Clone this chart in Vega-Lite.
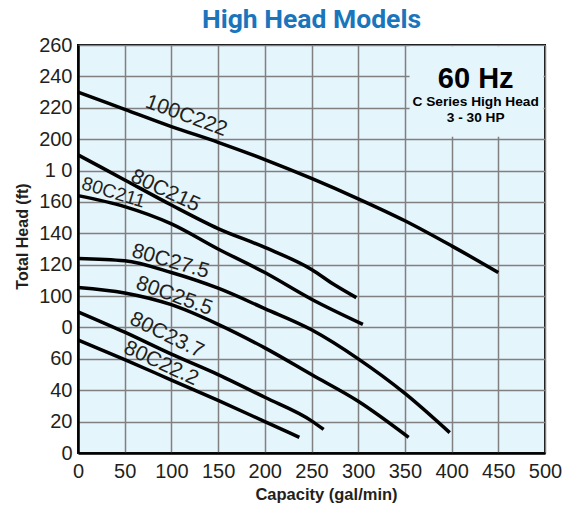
{
  "$schema": "https://vega.github.io/schema/vega-lite/v6.json",
  "width": 467,
  "height": 408,
  "autosize": {"type": "none"},
  "padding": {"left": 78, "top": 45, "right": 21, "bottom": 52},
  "background": "white",
  "title": {"text": "High Head Models", "font": "Roboto", "fontSize": 26.5, "fontWeight": "bold", "color": "#1b75bc", "anchor": "middle", "frame": "group", "offset": 2},
  "config": {
    "view": {"fill": "#e4f5fc", "stroke": "#000000", "strokeWidth": 2},
    "text": {"font": "Liberation Sans", "color": "#231f20"}
  },
  "datasets": {
    "curves": [
      {"model": "100C222", "q": 0, "h": 230}, {"model": "100C222", "q": 50, "h": 219}, {"model": "100C222", "q": 100, "h": 208}, {"model": "100C222", "q": 150, "h": 198}, {"model": "100C222", "q": 200, "h": 187}, {"model": "100C222", "q": 250, "h": 175}, {"model": "100C222", "q": 300, "h": 162}, {"model": "100C222", "q": 350, "h": 148}, {"model": "100C222", "q": 400, "h": 132}, {"model": "100C222", "q": 450, "h": 115},
      {"model": "80C215", "q": 0, "h": 190}, {"model": "80C215", "q": 50, "h": 174}, {"model": "80C215", "q": 100, "h": 158}, {"model": "80C215", "q": 150, "h": 143}, {"model": "80C215", "q": 200, "h": 131}, {"model": "80C215", "q": 250, "h": 117}, {"model": "80C215", "q": 275, "h": 107}, {"model": "80C215", "q": 298, "h": 99},
      {"model": "80C211", "q": 0, "h": 164}, {"model": "80C211", "q": 50, "h": 157}, {"model": "80C211", "q": 100, "h": 146}, {"model": "80C211", "q": 150, "h": 130}, {"model": "80C211", "q": 200, "h": 115}, {"model": "80C211", "q": 250, "h": 98}, {"model": "80C211", "q": 305, "h": 82},
      {"model": "80C27.5", "q": 0, "h": 124}, {"model": "80C27.5", "q": 50, "h": 122.5}, {"model": "80C27.5", "q": 100, "h": 115}, {"model": "80C27.5", "q": 150, "h": 105}, {"model": "80C27.5", "q": 200, "h": 92}, {"model": "80C27.5", "q": 250, "h": 78.5}, {"model": "80C27.5", "q": 300, "h": 60}, {"model": "80C27.5", "q": 350, "h": 38}, {"model": "80C27.5", "q": 398, "h": 13},
      {"model": "80C25.5", "q": 0, "h": 105.5}, {"model": "80C25.5", "q": 50, "h": 102}, {"model": "80C25.5", "q": 100, "h": 94.5}, {"model": "80C25.5", "q": 150, "h": 82}, {"model": "80C25.5", "q": 200, "h": 67}, {"model": "80C25.5", "q": 250, "h": 50}, {"model": "80C25.5", "q": 300, "h": 33}, {"model": "80C25.5", "q": 354, "h": 10},
      {"model": "80C23.7", "q": 0, "h": 90}, {"model": "80C23.7", "q": 50, "h": 77}, {"model": "80C23.7", "q": 100, "h": 63}, {"model": "80C23.7", "q": 150, "h": 50}, {"model": "80C23.7", "q": 200, "h": 35.5}, {"model": "80C23.7", "q": 250, "h": 20.5}, {"model": "80C23.7", "q": 263, "h": 15},
      {"model": "80C22.2", "q": 0, "h": 72}, {"model": "80C22.2", "q": 50, "h": 59.5}, {"model": "80C22.2", "q": 100, "h": 46.5}, {"model": "80C22.2", "q": 150, "h": 33.5}, {"model": "80C22.2", "q": 200, "h": 20}, {"model": "80C22.2", "q": 237, "h": 10}
    ],
    "labels": [
      {"model": "100C222", "q": 116, "h": 214.8},
      {"model": "80C215", "q": 93.5, "h": 167},
      {"model": "80C211", "q": 38, "h": 166},
      {"model": "80C27.5", "q": 99, "h": 122},
      {"model": "80C25.5", "q": 103, "h": 100},
      {"model": "80C23.7", "q": 95, "h": 75},
      {"model": "80C22.2", "q": 89, "h": 57}
    ],
    "box": [{"q": 355, "q2": 498.5, "h": 201.5, "h2": 259.2}],
    "notes": [
      {"note": "60 Hz", "q": 425.8, "h": 232.7},
      {"note": "C Series High Head", "q": 425.8, "h": 221.2},
      {"note": "3 - 30 HP", "q": 425.8, "h": 211}
    ]
  },
  "encoding": {
    "x": {"field": "q", "type": "quantitative", "scale": {"domain": [0, 500], "nice": false, "zero": false},
      "axis": {"values": [0, 50, 100, 150, 200, 250, 300, 350, 400, 450, 500], "labelOverlap": false, "labelFlush": false, "grid": true, "gridColor": "#808080", "gridWidth": 1.5, "ticks": false, "labelFont": "Liberation Sans", "labelFontSize": 20, "labelColor": "#231f20", "labelPadding": 8, "domainColor": "#000000", "domainWidth": 2.5, "title": "Capacity (gal/min)", "titleFont": "Liberation Sans", "titleFontSize": 16.5, "titleFontWeight": "bold", "titleColor": "#231f20", "titleX": 248, "titleY": 46, "titleBaseline": "alphabetic"}},
    "y": {"field": "h", "type": "quantitative", "scale": {"domain": [0, 260], "nice": false},
      "axis": {"values": [0, 20, 40, 60, 80, 100, 120, 140, 160, 180, 200, 220, 240, 260], "labelOverlap": false, "labelFlush": false, "labelExpr": "datum.value == 180 ? '1 0' : datum.value == 80 ? '0' : datum.label", "grid": true, "gridColor": "#808080", "gridWidth": 1.5, "ticks": false, "labelFont": "Liberation Sans", "labelFontSize": 20, "labelColor": "#231f20", "labelPadding": 6, "domainColor": "#000000", "domainWidth": 2.5, "title": "Total Head (ft)", "titleFont": "Liberation Sans", "titleFontSize": 16, "titleFontWeight": "bold", "titleColor": "#231f20", "titleX": -51, "titleY": 191, "titleAngle": -90, "titleBaseline": "alphabetic", "titleAlign": "center"}}
  },
  "layer": [
    {"data": {"name": "box"}, "mark": {"type": "rect", "fill": "#e4f5fc", "strokeWidth": 0}, "encoding": {"x2": {"field": "q2"}, "y2": {"field": "h2"}}},
    {"data": {"name": "curves"}, "mark": {"type": "line", "color": "#000000", "strokeWidth": 3.5, "interpolate": "monotone"}, "encoding": {"detail": {"field": "model"}}},
    {"data": {"name": "labels"}, "transform": [{"filter": "datum.model == '100C222'"}], "mark": {"type": "text", "fontSize": 21, "angle": 20, "align": "center", "baseline": "middle"}, "encoding": {"text": {"field": "model"}}},
    {"data": {"name": "labels"}, "transform": [{"filter": "datum.model == '80C215'"}], "mark": {"type": "text", "fontSize": 21, "angle": 25, "align": "center", "baseline": "middle"}, "encoding": {"text": {"field": "model"}}},
    {"data": {"name": "labels"}, "transform": [{"filter": "datum.model == '80C211'"}], "mark": {"type": "text", "fontSize": 19, "angle": 17, "align": "center", "baseline": "middle"}, "encoding": {"text": {"field": "model"}}},
    {"data": {"name": "labels"}, "transform": [{"filter": "datum.model == '80C27.5'"}], "mark": {"type": "text", "fontSize": 21, "angle": 16, "align": "center", "baseline": "middle"}, "encoding": {"text": {"field": "model"}}},
    {"data": {"name": "labels"}, "transform": [{"filter": "datum.model == '80C25.5'"}], "mark": {"type": "text", "fontSize": 21, "angle": 20, "align": "center", "baseline": "middle"}, "encoding": {"text": {"field": "model"}}},
    {"data": {"name": "labels"}, "transform": [{"filter": "datum.model == '80C23.7'"}], "mark": {"type": "text", "fontSize": 21, "angle": 26, "align": "center", "baseline": "middle"}, "encoding": {"text": {"field": "model"}}},
    {"data": {"name": "labels"}, "transform": [{"filter": "datum.model == '80C22.2'"}], "mark": {"type": "text", "fontSize": 21, "angle": 25, "align": "center", "baseline": "middle"}, "encoding": {"text": {"field": "model"}}},
    {"data": {"name": "notes"}, "transform": [{"filter": "datum.note == '60 Hz'"}], "mark": {"type": "text", "fontSize": 29, "fontWeight": "bold", "align": "center", "baseline": "alphabetic", "color": "#000000"}, "encoding": {"text": {"field": "note"}}},
    {"data": {"name": "notes"}, "transform": [{"filter": "datum.note != '60 Hz'"}], "mark": {"type": "text", "fontSize": 13.7, "fontWeight": "bold", "align": "center", "baseline": "alphabetic", "color": "#000000"}, "encoding": {"text": {"field": "note"}}}
  ]
}
